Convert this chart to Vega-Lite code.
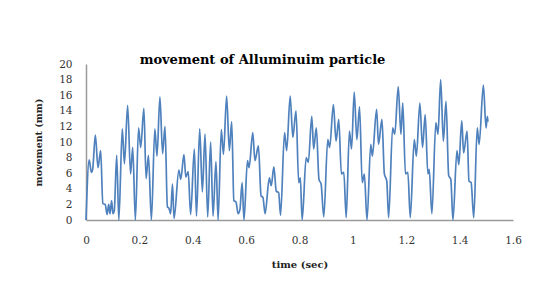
{
  "$schema": "https://vega.github.io/schema/vega-lite/v6.json",
  "width": 427,
  "height": 156,
  "autosize": {"type": "none"},
  "padding": {"left": 86, "top": 64, "right": 20, "bottom": 68},
  "background": "white",
  "title": {
    "text": "movement of Alluminuim particle",
    "font": "DejaVu Serif",
    "fontWeight": "bold",
    "fontSize": 13,
    "color": "#000000",
    "anchor": "middle",
    "frame": "group",
    "dx": -37,
    "offset": -8
  },
  "data": {
    "values": [
      {"t": 0.0, "v": 0.0},
      {"t": 0.012, "v": 7.7},
      {"t": 0.02, "v": 6.1},
      {"t": 0.025, "v": 6.5},
      {"t": 0.035, "v": 10.9},
      {"t": 0.045, "v": 6.7},
      {"t": 0.055, "v": 8.9},
      {"t": 0.063, "v": 2.1},
      {"t": 0.072, "v": 2.0},
      {"t": 0.079, "v": 0.7},
      {"t": 0.085, "v": 2.0},
      {"t": 0.09, "v": 0.8},
      {"t": 0.096, "v": 2.5},
      {"t": 0.101, "v": 0.8},
      {"t": 0.106, "v": 1.2},
      {"t": 0.115, "v": 8.3},
      {"t": 0.123, "v": 0.0},
      {"t": 0.136, "v": 11.7},
      {"t": 0.144, "v": 7.2},
      {"t": 0.156, "v": 14.7},
      {"t": 0.167, "v": 5.9},
      {"t": 0.175, "v": 9.3},
      {"t": 0.185, "v": 0.0},
      {"t": 0.197, "v": 11.8},
      {"t": 0.205, "v": 9.3},
      {"t": 0.217, "v": 14.3},
      {"t": 0.225, "v": 5.3},
      {"t": 0.234, "v": 8.3},
      {"t": 0.245, "v": 0.0},
      {"t": 0.258, "v": 11.7},
      {"t": 0.266, "v": 8.2},
      {"t": 0.277, "v": 15.8},
      {"t": 0.287, "v": 8.5},
      {"t": 0.296, "v": 12.0},
      {"t": 0.305, "v": 1.7},
      {"t": 0.311, "v": 1.5},
      {"t": 0.317, "v": 0.8},
      {"t": 0.324, "v": 4.6},
      {"t": 0.33, "v": 0.2},
      {"t": 0.348, "v": 6.4},
      {"t": 0.355, "v": 5.2},
      {"t": 0.367, "v": 8.4},
      {"t": 0.374, "v": 5.5},
      {"t": 0.383, "v": 6.2},
      {"t": 0.392, "v": 0.7},
      {"t": 0.406, "v": 9.1},
      {"t": 0.414, "v": 0.5},
      {"t": 0.426, "v": 11.7},
      {"t": 0.436, "v": 3.6},
      {"t": 0.446, "v": 11.0},
      {"t": 0.456, "v": 0.4},
      {"t": 0.467, "v": 10.0},
      {"t": 0.476, "v": 0.5},
      {"t": 0.487, "v": 7.5},
      {"t": 0.495, "v": 0.0},
      {"t": 0.507, "v": 11.6},
      {"t": 0.515, "v": 8.4},
      {"t": 0.527, "v": 15.9},
      {"t": 0.537, "v": 8.9},
      {"t": 0.546, "v": 12.6},
      {"t": 0.554, "v": 2.5},
      {"t": 0.562, "v": 2.3},
      {"t": 0.57, "v": 0.8},
      {"t": 0.577, "v": 1.4},
      {"t": 0.585, "v": 4.8},
      {"t": 0.592, "v": 0.0},
      {"t": 0.605, "v": 7.6},
      {"t": 0.611, "v": 6.7},
      {"t": 0.625, "v": 11.2},
      {"t": 0.633, "v": 7.6},
      {"t": 0.646, "v": 9.5},
      {"t": 0.656, "v": 3.1},
      {"t": 0.663, "v": 2.9},
      {"t": 0.671, "v": 0.8},
      {"t": 0.687, "v": 5.4},
      {"t": 0.694, "v": 4.4},
      {"t": 0.704, "v": 6.8},
      {"t": 0.713, "v": 3.7},
      {"t": 0.722, "v": 3.5},
      {"t": 0.729, "v": 0.6},
      {"t": 0.744, "v": 11.2},
      {"t": 0.752, "v": 8.9},
      {"t": 0.765, "v": 15.9},
      {"t": 0.775, "v": 10.6},
      {"t": 0.787, "v": 14.0},
      {"t": 0.797, "v": 4.8},
      {"t": 0.803, "v": 5.4},
      {"t": 0.81, "v": 0.0},
      {"t": 0.825, "v": 8.0},
      {"t": 0.833, "v": 7.4},
      {"t": 0.846, "v": 13.3},
      {"t": 0.853, "v": 9.1},
      {"t": 0.863, "v": 11.8},
      {"t": 0.873, "v": 5.2},
      {"t": 0.881, "v": 4.6},
      {"t": 0.891, "v": 0.4},
      {"t": 0.906, "v": 10.3},
      {"t": 0.913, "v": 9.3},
      {"t": 0.927, "v": 14.8},
      {"t": 0.937, "v": 10.1},
      {"t": 0.947, "v": 12.9},
      {"t": 0.957, "v": 5.9},
      {"t": 0.966, "v": 6.1},
      {"t": 0.975, "v": 0.3},
      {"t": 0.987, "v": 11.4},
      {"t": 0.995, "v": 9.1},
      {"t": 1.005, "v": 16.4},
      {"t": 1.015, "v": 10.3},
      {"t": 1.025, "v": 14.5},
      {"t": 1.035, "v": 4.8},
      {"t": 1.043, "v": 5.9},
      {"t": 1.053, "v": 0.0},
      {"t": 1.067, "v": 9.7},
      {"t": 1.073, "v": 8.2},
      {"t": 1.089, "v": 14.2},
      {"t": 1.096, "v": 9.7},
      {"t": 1.109, "v": 12.9},
      {"t": 1.118, "v": 5.9},
      {"t": 1.127, "v": 5.0},
      {"t": 1.134, "v": 0.3},
      {"t": 1.149, "v": 11.8},
      {"t": 1.157, "v": 11.0},
      {"t": 1.17, "v": 17.1},
      {"t": 1.18, "v": 11.0},
      {"t": 1.187, "v": 15.0},
      {"t": 1.197, "v": 5.9},
      {"t": 1.206, "v": 6.1},
      {"t": 1.215, "v": 0.3},
      {"t": 1.23, "v": 10.3},
      {"t": 1.238, "v": 8.2},
      {"t": 1.251, "v": 15.0},
      {"t": 1.261, "v": 9.3},
      {"t": 1.271, "v": 13.5},
      {"t": 1.281, "v": 5.9},
      {"t": 1.286, "v": 6.5},
      {"t": 1.296, "v": 0.8},
      {"t": 1.311, "v": 12.5},
      {"t": 1.319, "v": 11.0},
      {"t": 1.329, "v": 18.0},
      {"t": 1.339, "v": 10.1},
      {"t": 1.349, "v": 15.2},
      {"t": 1.359, "v": 5.7},
      {"t": 1.367, "v": 5.2},
      {"t": 1.375, "v": 0.0},
      {"t": 1.39, "v": 8.9},
      {"t": 1.397, "v": 7.1},
      {"t": 1.408, "v": 12.7},
      {"t": 1.415, "v": 8.6},
      {"t": 1.428, "v": 11.4},
      {"t": 1.435, "v": 5.0},
      {"t": 1.443, "v": 4.8},
      {"t": 1.453, "v": 0.3},
      {"t": 1.466, "v": 11.8},
      {"t": 1.473, "v": 9.7},
      {"t": 1.489, "v": 17.3},
      {"t": 1.499, "v": 11.8},
      {"t": 1.504, "v": 13.3},
      {"t": 1.506, "v": 12.6}
    ]
  },
  "mark": {"type": "line", "color": "#4F81BD", "strokeWidth": 1.7, "interpolate": "monotone"},
  "encoding": {
    "x": {
      "field": "t",
      "type": "quantitative",
      "title": "time (sec)",
      "scale": {"domain": [0, 1.6], "nice": false, "zero": false},
      "axis": {
        "values": [0, 0.2, 0.4, 0.6, 0.8, 1, 1.2, 1.4, 1.6],
        "format": "~g",
        "grid": false,
        "ticks": false,
        "tickSize": 0,
        "domainColor": "#9A9A9A",
        "domainWidth": 1.5,
        "labelFont": "DejaVu Serif",
        "labelFontSize": 10.5,
        "labelColor": "#333333",
        "labelPadding": 15,
        "labelFlush": false,
        "titleFont": "DejaVu Serif",
        "titleFontSize": 10,
        "titleFontWeight": "bold",
        "titleColor": "#222222",
        "titlePadding": 14
      }
    },
    "y": {
      "field": "v",
      "type": "quantitative",
      "title": "movement (mm)",
      "scale": {"domain": [0, 20], "nice": false},
      "axis": {
        "values": [0, 2, 4, 6, 8, 10, 12, 14, 16, 18, 20],
        "grid": false,
        "ticks": false,
        "tickSize": 0,
        "domainColor": "#9A9A9A",
        "domainWidth": 1.5,
        "labelFont": "DejaVu Serif",
        "labelFontSize": 10.5,
        "labelColor": "#333333",
        "labelPadding": 14,
        "labelFlush": false,
        "titleFont": "DejaVu Serif",
        "titleFontSize": 9.5,
        "titleFontWeight": "bold",
        "titleColor": "#222222",
        "titlePadding": 15
      }
    }
  },
  "config": {"view": {"stroke": null}}
}
